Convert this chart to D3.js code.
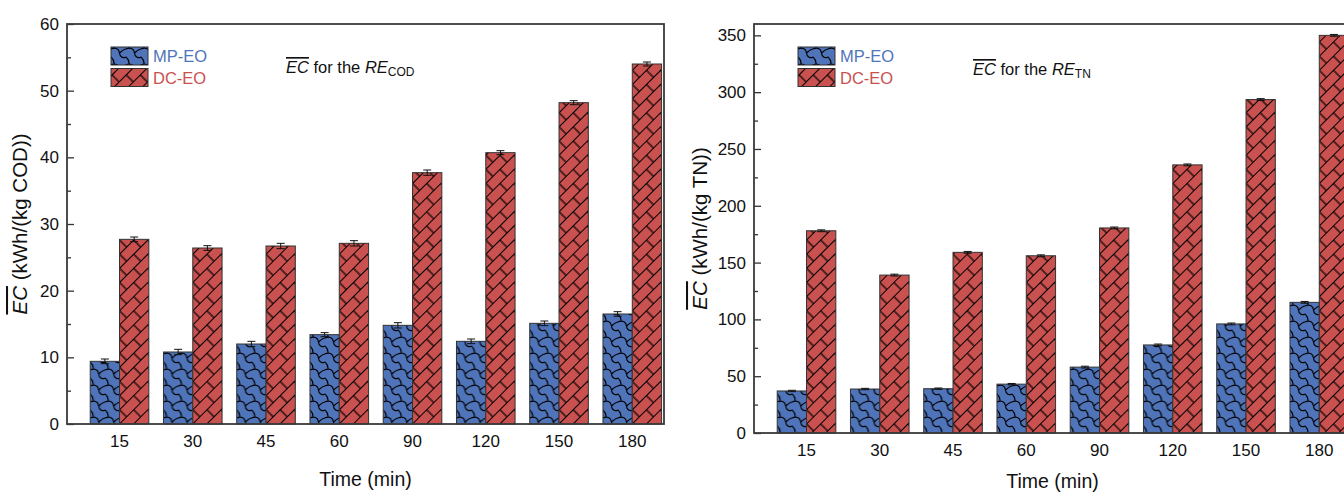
<!DOCTYPE html>
<html>
<head>
<meta charset="utf-8">
<script src="https://cdn.jsdelivr.net/npm/d3@7"></script>
<style>
  html, body { margin: 0; padding: 0; background: #fff; }
  svg { display: block; font-family: "Liberation Sans", Arial, sans-serif; }
</style>
</head>
<body>
<div id="chart"></div>
<script>
// categories
const times = ["15", "30", "45", "60", "90", "120", "150", "180"];
const seriesNames = ["MP-EO", "DC-EO"];

// EC for RE_COD (kWh/(kg COD))
const codMP = [9.4, 10.8, 12.0, 13.4, 14.8, 12.4, 15.1, 16.5];
const codMPErr = [0.35, 0.4, 0.4, 0.3, 0.4, 0.35, 0.35, 0.35];
const codDC = [27.7, 26.4, 26.7, 27.1, 37.7, 40.7, 48.2, 54.0];
const codDCErr = [0.35, 0.35, 0.4, 0.4, 0.4, 0.3, 0.3, 0.3];

// EC for RE_TN (kWh/(kg TN))
const tnMP = [37, 38.7, 39, 43, 58, 77.5, 96, 115];
const tnMPErr = [0.6, 0.6, 0.6, 0.6, 0.8, 0.8, 0.8, 0.8];
const tnDC = [178, 139, 159, 156, 180.5, 236, 293.5, 350];
const tnDCErr = [0.8, 0.8, 0.8, 0.8, 0.8, 0.8, 0.8, 0.8];

const codTicks = [0, 10, 20, 30, 40, 50, 60];
const tnTicks = [0, 50, 100, 150, 200, 250, 300, 350];

const width = 1344, height = 492;
const colors = { "MP-EO": "#4f74b9", "DC-EO": "#c9514f" };

const svg = d3.select("#chart").append("svg")
  .attr("width", width)
  .attr("height", height);

// hatch patterns
const defs = svg.append("defs");

const pMP = defs.append("pattern")
  .attr("id", "pat-MP-EO")
  .attr("patternUnits", "userSpaceOnUse")
  .attr("width", 15)
  .attr("height", 16);
pMP.append("rect").attr("width", 15).attr("height", 16).attr("fill", colors["MP-EO"]);
pMP.append("path")
  .attr("d", "M0,2 C4,0 8,1.5 8.5,6 C9,10 11.5,11.5 15,10 M8.5,6 C11,4 13,2 15,2 M0,10 C2,12 3,14 3,16 M3,0 L3,1.2")
  .attr("fill", "none")
  .attr("stroke", "#000")
  .attr("stroke-width", 1.2);

const pDC = defs.append("pattern")
  .attr("id", "pat-DC-EO")
  .attr("patternUnits", "userSpaceOnUse")
  .attr("width", 20)
  .attr("height", 20)
  .attr("patternTransform", "rotate(-45)");
pDC.append("rect").attr("width", 20).attr("height", 20).attr("fill", colors["DC-EO"]);
pDC.append("path")
  .attr("d", "M0,0.5 H20 M0,10.5 H20 M1,0.5 V10.5 M11,10.5 V20.5")
  .attr("fill", "none")
  .attr("stroke", "#000")
  .attr("stroke-width", 1.2);

const panels = [
  {
    mp: codMP, mpErr: codMPErr, dc: codDC, dcErr: codDCErr,
    ticks: codTicks, yMax: 60, minorStep: 5,
    left: 67, right: 664, top: 24, bottom: 424,
    ylabel: " (kWh/(kg COD))", sub: "COD", yLabelX: 27, titleY: 486, annY: 73
  },
  {
    mp: tnMP, mpErr: tnMPErr, dc: tnDC, dcErr: tnDCErr,
    ticks: tnTicks, yMax: 360, minorStep: 25,
    left: 754, right: 1351, top: 24, bottom: 433,
    ylabel: " (kWh/(kg TN))", sub: "TN", yLabelX: 707, titleY: 488, annY: 75
  }
];

panels.forEach(p => {
  const g = svg.append("g");

  const x = d3.scaleBand()
    .domain(times)
    .range([p.left + 15.9, p.left + 15.9 + 8 * 73.25])
    .paddingInner(0.2)
    .paddingOuter(0.1);

  const xSub = d3.scaleBand()
    .domain(seriesNames)
    .range([0, x.bandwidth()]);

  const y = d3.scaleLinear()
    .domain([0, p.yMax])
    .range([p.bottom, p.top]);

  const rows = times.map((t, i) => ({
    t,
    vals: [
      { key: "MP-EO", v: p.mp[i], e: p.mpErr[i] },
      { key: "DC-EO", v: p.dc[i], e: p.dcErr[i] }
    ]
  }));

  const grp = g.selectAll(".grp")
    .data(rows)
    .join("g")
    .attr("transform", d => `translate(${x(d.t)},0)`);

  grp.selectAll("rect")
    .data(d => d.vals)
    .join("rect")
    .attr("x", d => xSub(d.key))
    .attr("y", d => y(d.v))
    .attr("width", xSub.bandwidth())
    .attr("height", d => y(0) - y(d.v))
    .attr("fill", d => `url(#pat-${d.key})`)
    .attr("stroke", "#333")
    .attr("stroke-width", 1);

  // error bars
  const eb = grp.selectAll(".eb")
    .data(d => d.vals)
    .join("g")
    .attr("transform", d => `translate(${xSub(d.key) + xSub.bandwidth() / 2},0)`)
    .attr("stroke", "#111")
    .attr("stroke-width", 1);
  eb.append("line")
    .attr("y1", d => y(d.v - d.e)).attr("y2", d => y(d.v + d.e));
  eb.append("line")
    .attr("x1", -4).attr("x2", 4)
    .attr("y1", d => y(d.v + d.e)).attr("y2", d => y(d.v + d.e));
  eb.append("line")
    .attr("x1", -4).attr("x2", 4)
    .attr("y1", d => y(d.v - d.e)).attr("y2", d => y(d.v - d.e));

  // y axis, inward ticks
  g.append("g")
    .attr("transform", `translate(${p.left},0)`)
    .call(d3.axisLeft(y).tickValues(p.ticks).tickSizeInner(-7).tickSizeOuter(0).tickPadding(8));
  const minors = d3.range(p.minorStep, p.yMax, p.minorStep * 2);
  g.append("g")
    .attr("transform", `translate(${p.left},0)`)
    .call(d3.axisLeft(y).tickValues(minors).tickSizeInner(-4).tickSizeOuter(0).tickFormat(""));

  // x axis labels
  g.append("g")
    .attr("transform", `translate(0,${p.bottom})`)
    .call(d3.axisBottom(x).tickSize(0).tickPadding(11));

  g.selectAll(".domain").remove();
  g.selectAll(".tick line").attr("stroke", "#333").attr("stroke-width", 1.3);
  g.selectAll(".tick text").attr("font-size", 17).attr("fill", "#111")
    .attr("font-family", "'Liberation Sans', Arial, sans-serif");

  // frame
  g.append("rect")
    .attr("x", p.left).attr("y", p.top)
    .attr("width", p.right - p.left).attr("height", p.bottom - p.top)
    .attr("fill", "none")
    .attr("stroke", "#3a3a3a")
    .attr("stroke-width", 1.8);

  // axis titles
  g.append("text")
    .attr("x", (p.left + p.right) / 2)
    .attr("y", p.titleY)
    .attr("text-anchor", "middle")
    .attr("font-size", 19.5)
    .attr("fill", "#111")
    .text("Time (min)");

  const yl = g.append("text")
    .attr("transform", `translate(${p.yLabelX},${(p.top + p.bottom) / 2}) rotate(-90)`)
    .attr("text-anchor", "middle")
    .attr("font-size", 20.5)
    .attr("fill", "#111");
  yl.append("tspan").attr("font-style", "italic")
    .style("text-decoration", "overline").text("EC");
  yl.append("tspan").text(p.ylabel);

  // legend
  const lg = g.append("g").attr("transform", `translate(${p.left + 44},47)`);
  seriesNames.forEach((s, i) => {
    lg.append("rect")
      .attr("x", 0).attr("y", i * 21.5)
      .attr("width", 37).attr("height", 18)
      .attr("fill", `url(#pat-${s})`)
      .attr("stroke", "#333").attr("stroke-width", 1);
    lg.append("text")
      .attr("x", 42).attr("y", i * 21.5 + 15)
      .attr("font-size", 16.5)
      .attr("fill", colors[s])
      .text(s);
  });

  // annotation
  const an = g.append("text")
    .attr("x", p.left + 219).attr("y", p.annY)
    .attr("font-size", 16.5)
    .attr("fill", "#111");
  an.append("tspan").attr("font-style", "italic")
    .style("text-decoration", "overline").text("EC");
  an.append("tspan").text(" for the ");
  an.append("tspan").attr("font-style", "italic").text("RE");
  an.append("tspan").attr("font-size", 12).attr("dy", 3).text(p.sub);
});
</script>
</body>
</html>
